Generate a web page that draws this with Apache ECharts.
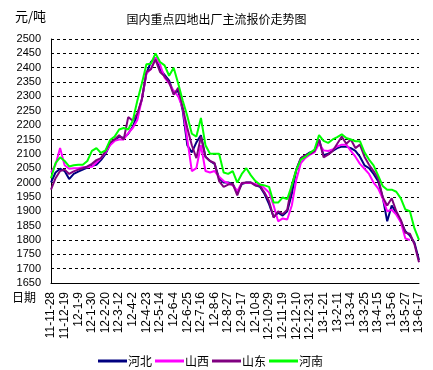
<!DOCTYPE html>
<html>
<head>
<meta charset="utf-8">
<script src="https://cdn.jsdelivr.net/npm/echarts@6/dist/echarts.min.js"></script>
<style>
html,body{margin:0;padding:0;background:#fff;}
#c{width:433px;height:370px;}
</style>
</head>
<body>
<div id="c"></div>
<script>
const categories = ['11-11-28','11-12-5','11-12-12','11-12-19','11-12-26','12-1-2','12-1-9','12-1-16','12-1-23','12-1-30',
'12-2-6','12-2-13','12-2-20','12-2-27','12-3-5','12-3-12','12-3-19','12-3-26','12-4-2','12-4-9',
'12-4-16','12-4-23','12-4-30','12-5-7','12-5-14','12-5-21','12-5-28','12-6-4','12-6-11','12-6-18',
'12-6-25','12-7-2','12-7-9','12-7-16','12-7-23','12-7-30','12-8-6','12-8-13','12-8-20','12-8-27',
'12-9-3','12-9-10','12-9-17','12-9-24','12-10-1','12-10-8','12-10-15','12-10-22','12-10-29','12-11-5',
'12-11-12','12-11-19','12-11-26','12-12-3','12-12-10','12-12-17','12-12-24','12-12-31','13-1-7','13-1-14',
'13-1-21','13-1-28','13-2-4','13-2-11','13-2-18','13-2-25','13-3-4','13-3-11','13-3-18','13-3-25',
'13-4-1','13-4-8','13-4-15','13-4-22','13-4-29','13-5-6','13-5-13','13-5-20','13-5-27','13-6-3',
'13-6-10','13-6-17'];

const hebei = [2000,2035,2048,2040,2012,2030,2038,2045,2052,2058,
2062,2078,2100,2132,2148,2160,2155,2170,2195,2235,
2290,2380,2420,2435,2395,2375,2355,2310,2320,2250,
2130,2105,2140,2165,2090,2075,2065,2015,2000,2000,
1995,1965,1995,2000,2000,1990,1985,1960,1925,1880,
1895,1885,1900,1960,2045,2085,2095,2105,2110,2150,
2095,2100,2110,2120,2125,2125,2120,2110,2090,2060,
2050,2030,2005,1950,1865,1920,1895,1865,1830,1815,
1790,1730];

const shanxi = [2035,2062,2120,2060,2048,2050,2050,2053,2053,2055,
2070,2085,2105,2130,2145,2150,2150,2172,2190,2218,
2290,2380,2395,2435,2411,2365,2345,2320,2300,2260,
2150,2040,2050,2130,2040,2035,2040,2020,2005,1998,
1990,1970,1998,1998,1998,1995,1993,1980,1965,1920,
1865,1875,1871,1920,2010,2068,2086,2097,2105,2135,
2112,2110,2115,2126,2132,2132,2110,2090,2065,2048,
2030,2000,1980,1945,1900,1905,1888,1862,1805,1800,
null,null];

const shandong = [1975,2015,2040,2045,2030,2039,2045,2050,2056,2065,
2078,2085,2110,2140,2150,2165,2150,2228,2215,2240,
2290,2385,2395,2428,2385,2370,2350,2306,2330,2260,
2190,2130,2085,2160,2090,2075,2068,2005,1985,1993,
1995,1955,1998,2000,2000,1990,1988,1965,1935,1878,
1900,1890,1905,1990,2045,2085,2095,2100,2110,2150,
2088,2097,2110,2135,2160,2135,2150,2120,2132,2090,
2062,2040,2015,1950,1920,1945,1900,1870,1825,1822,
1785,1722];

const henan = [2015,2068,2088,2075,2056,2060,2062,2062,2075,2110,
2120,2103,2112,2148,2160,2185,2190,2185,2215,2285,
2345,2412,2414,2450,2420,2408,2372,2400,2345,2285,
2232,2170,2160,2225,2130,2100,2100,2100,2035,2030,
2040,2000,2030,2050,2025,2005,1993,1990,1985,1930,
1930,1948,1942,1990,2045,2080,2090,2103,2115,2165,
2145,2138,2150,2158,2168,2155,2150,2144,2144,2105,
2080,2060,2025,1988,1975,1975,1968,1945,1906,1900,
1840,1800];

const seriesNames = ['河北','山西','山东','河南'];
const seriesColors = ['#000080','#FF00FF','#800080','#00FF00'];
const seriesData = [hebei, shanxi, shandong, henan];

const chart = echarts.init(document.getElementById('c'), null, {renderer:'canvas'});
const numFont = 'Liberation Sans';
const cjkFont = '"Noto Sans CJK SC", sans-serif';

chart.setOption({
  animation: false,
  backgroundColor: '#fff',
  title: {
    text: '国内重点四地出厂主流报价走势图',
    left: 'center', top: 8,
    textStyle: {fontSize: 12, fontWeight: 'normal', color: '#000', fontFamily: cjkFont}
  },
  graphic: [
    {type:'text', left: 15, top: 10, style:{text:'元/吨', fontSize:13, fill:'#000', fontFamily: cjkFont}},
    {type:'text', left: 12, top: 291, style:{text:'日期', fontSize:12, fill:'#000', fontFamily: cjkFont}}
  ],
  legend: {
    left: 93, top: 350,
    itemWidth: 29, itemHeight: 3, itemGap: 3,
    icon: 'rect',
    textStyle: {fontSize: 12, color:'#000', fontFamily: cjkFont, padding: [0,0,0,-4]},
    data: seriesNames
  },
  grid: {left: 51, right: 14, top: 39, bottom: 87, containLabel: false},
  xAxis: {
    type: 'category',
    data: categories,
    boundaryGap: false,
    axisLine: {lineStyle: {color:'#000', width: 1}},
    axisTick: {show: false},
    axisLabel: {rotate: 90, interval: 2, fontSize: 12, color:'#000', fontFamily: numFont, margin: 9}
  },
  yAxis: {
    type: 'value',
    min: 1650, max: 2500, interval: 50,
    axisLine: {show: true, lineStyle: {color:'#000', width: 1}},
    axisTick: {show: true, inside: true, length: 3, lineStyle:{color:'#000'}},
    axisLabel: {fontSize: 11, color:'#000', fontFamily: numFont, margin: 10,
      formatter: function (v) { return String(v); }},
    splitLine: {show: true, lineStyle: {color:'#000', type: [3,3], width: 1}}
  },
  series: seriesData.map((d, k) => ({
    name: seriesNames[k],
    type: 'line',
    data: d,
    showSymbol: false,
    symbol: 'none',
    color: seriesColors[k],
    lineStyle: {width: 2, color: seriesColors[k]}
  }))
});
</script>
</body>
</html>
